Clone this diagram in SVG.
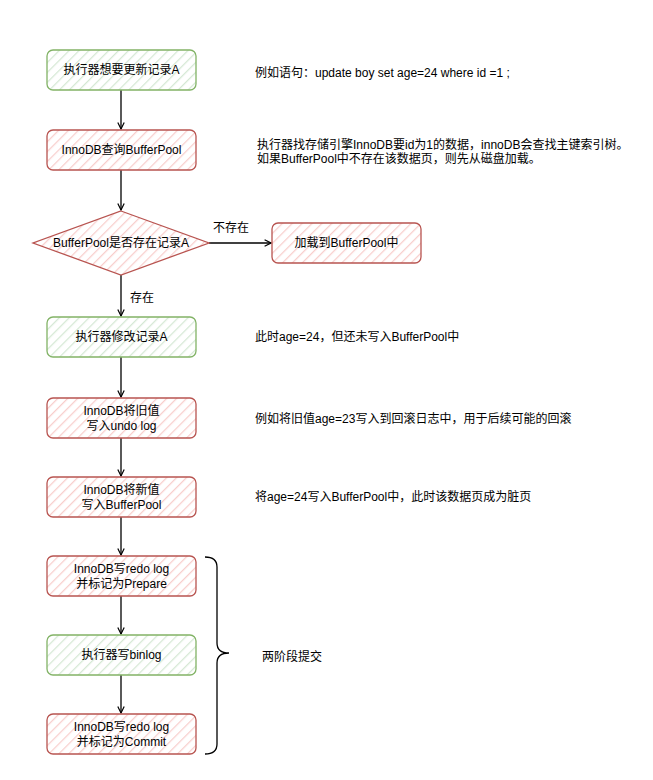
<svg xmlns="http://www.w3.org/2000/svg" width="653" height="780" viewBox="0 0 653 780">
<style>
text{font-family:"Liberation Sans","Noto Sans CJK SC",sans-serif;font-size:12px;fill:#000}
.c{text-anchor:middle}
.g{fill:url(#hg);stroke:#82b366;stroke-width:1.3}
.r{fill:url(#hr);stroke:#b85450;stroke-width:1.3}
.e{fill:none;stroke:#000;stroke-width:1.3}
</style>
<defs>
<pattern id="hg" patternUnits="userSpaceOnUse" width="7" height="7" patternTransform="rotate(45)">
<rect width="7" height="7" fill="#fff"/>
<line x1="0" y1="0" x2="0" y2="7" stroke="#d5e8d4" stroke-width="2.5"/>
</pattern>
<pattern id="hr" patternUnits="userSpaceOnUse" width="7" height="7" patternTransform="rotate(45)">
<rect width="7" height="7" fill="#fff"/>
<line x1="0" y1="0" x2="0" y2="7" stroke="#f8cecc" stroke-width="2.5"/>
</pattern>
<marker id="a" viewBox="0 0 10 10" refX="9" refY="5" markerWidth="8" markerHeight="8" orient="auto" markerUnits="userSpaceOnUse">
<path d="M1,1 L9,5 L1,9" fill="none" stroke="#000" stroke-width="1.5"/>
</marker>
</defs>
<g id="connectors">
<path class="e" d="M121,90 V129" marker-end="url(#a)"/>
<path class="e" d="M121,170 V210" marker-end="url(#a)"/>
<path class="e" d="M121,275 V316" marker-end="url(#a)"/>
<path class="e" d="M121,357 V397" marker-end="url(#a)"/>
<path class="e" d="M121,438 V476" marker-end="url(#a)"/>
<path class="e" d="M121,517 V555" marker-end="url(#a)"/>
<path class="e" d="M121,596 V634" marker-end="url(#a)"/>
<path class="e" d="M121,675 V713" marker-end="url(#a)"/>
<path class="e" d="M209,243 H271" marker-end="url(#a)"/>
<text x="231" y="232" class="c">不存在</text>
<text x="142" y="302" class="c">存在</text>
</g>
<g id="n1"><rect class="g" x="47" y="50" width="149" height="40" rx="6"/><text x="121.5" y="74" class="c">执行器想要更新记录A</text></g>
<g id="n2"><rect class="r" x="47" y="130" width="149" height="40" rx="6"/><text x="121.5" y="154" class="c">InnoDB查询BufferPool</text></g>
<g id="n3"><path class="r" d="M121,211 L209,243 L121,275 L33,243 Z"/><text x="121" y="247" class="c">BufferPool是否存在记录A</text></g>
<g id="n4"><rect class="r" x="272" y="223" width="149" height="40" rx="6"/><text x="346.5" y="247" class="c">加载到BufferPool中</text></g>
<g id="n5"><rect class="g" x="47" y="317" width="149" height="40" rx="6"/><text x="121.5" y="341" class="c">执行器修改记录A</text></g>
<g id="n6"><rect class="r" x="47" y="398" width="149" height="40" rx="6"/><text x="121.5" y="415" class="c">InnoDB将旧值</text><text x="121.5" y="430" class="c">写入undo log</text></g>
<g id="n7"><rect class="r" x="47" y="477" width="149" height="40" rx="6"/><text x="121.5" y="494" class="c">InnoDB将新值</text><text x="121.5" y="509" class="c">写入BufferPool</text></g>
<g id="n8"><rect class="r" x="47" y="556" width="149" height="40" rx="6"/><text x="121.5" y="573" class="c">InnoDB写redo log</text><text x="121.5" y="588" class="c">并标记为Prepare</text></g>
<g id="n9"><rect class="g" x="47" y="635" width="149" height="40" rx="6"/><text x="121.5" y="659" class="c">执行器写binlog</text></g>
<g id="n10"><rect class="r" x="47" y="714" width="149" height="40" rx="6"/><text x="121.5" y="731" class="c">InnoDB写redo log</text><text x="121.5" y="746" class="c">并标记为Commit</text></g>
<g id="brace"><path class="e" d="M205,557 Q217,557 217,567 L217,643 Q217,653 229,653 Q217,653 217,663 L217,744 Q217,754 205,754"/></g>
<g id="notes">
<text x="255" y="77">例如语句：update boy set age=24 where id =1 ;</text>
<text x="257" y="149">执行器找存储引擎InnoDB要id为1的数据，innoDB会查找主键索引树。</text>
<text x="257" y="163">如果BufferPool中不存在该数据页，则先从磁盘加载。</text>
<text x="255" y="341">此时age=24，但还未写入BufferPool中</text>
<text x="255" y="423">例如将旧值age=23写入到回滚日志中，用于后续可能的回滚</text>
<text x="255" y="501">将age=24写入BufferPool中，此时该数据页成为脏页</text>
<text x="262" y="661">两阶段提交</text>
</g>
</svg>
